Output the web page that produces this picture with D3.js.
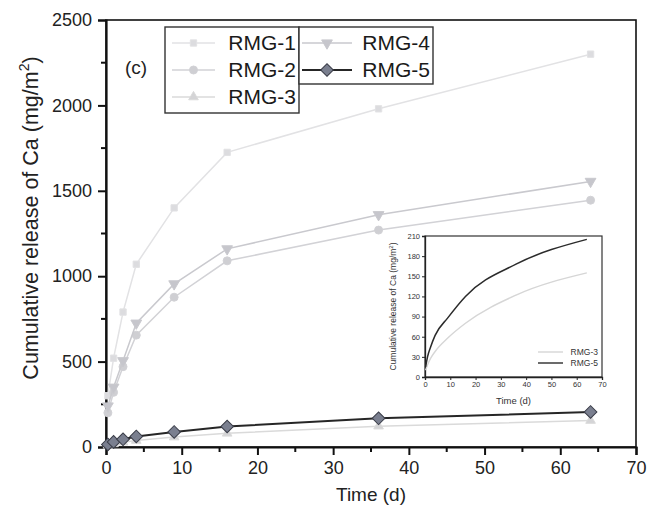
<!DOCTYPE html>
<html>
<head>
<meta charset="utf-8">
<script src="https://cdn.jsdelivr.net/npm/d3@7"></script>
<style>
  body { margin: 0; background: #fff; }
  svg { display: block; font-family: "Liberation Sans", Arial, sans-serif; }
</style>
</head>
<body>
<svg id="chart" width="648" height="510"></svg>
<script>
// sampling days (tank leaching schedule)
const days = [0.25, 1, 2.25, 4, 9, 16, 36, 64];

// cumulative release of Ca, mg/m2
const rmg1 = [300, 520, 790, 1070, 1400, 1725, 1980, 2300];
const rmg2 = [200, 320, 470, 655, 877, 1090, 1270, 1445];
const rmg3 = [10, 18, 28, 38, 58, 80, 122, 155];
const rmg4 = [240, 350, 505, 725, 955, 1160, 1360, 1555];
const rmg5 = [15, 30, 45, 62, 88, 120, 168, 205];

const seriesNames = ["RMG-1", "RMG-2", "RMG-3", "RMG-4", "RMG-5"];
const seriesValues = [rmg1, rmg2, rmg3, rmg4, rmg5];

const xTicks = [0, 10, 20, 30, 40, 50, 60, 70];
const yTicks = [0, 500, 1000, 1500, 2000, 2500];
const insetXTicks = [0, 10, 20, 30, 40, 50, 60, 70];
const insetYTicks = [0, 30, 60, 90, 120, 150, 180, 210];

let style = {
  "RMG-1": {stroke: "#e2e2e4", fill: "#dcdcdf", sym: d3.symbolSquare, rot: 0, size: 40, w: 1.5},
  "RMG-2": {stroke: "#d2d2d6", fill: "#cfcfd3", sym: d3.symbolCircle, rot: 0, size: 50, w: 1.5},
  "RMG-3": {stroke: "#dadada", fill: "#d4d4d6", sym: d3.symbolTriangle, rot: 0, size: 40, w: 1.5},
  "RMG-4": {stroke: "#c9c9ce", fill: "#c6c6cc", sym: d3.symbolTriangle, rot: 180, size: 50, w: 1.5},
  "RMG-5": {stroke: "#262626", fill: "#7a7f8f", sym: d3.symbolSquare, rot: 45, size: 80, w: 2}
};

let svg = d3.select("#chart");

let mLeft = 106, mRight = 636, mTop = 20, mBottom = 447;
let x = d3.scaleLinear().domain([0, 70]).range([mLeft, mRight]);
let y = d3.scaleLinear().domain([0, 2500]).range([mBottom, mTop]);

// frame
svg.append("rect").attr("x", mLeft).attr("y", mTop)
  .attr("width", mRight - mLeft).attr("height", mBottom - mTop)
  .attr("fill", "none").attr("stroke", "#111").attr("stroke-width", 1.6);

// axes
let xAxis = d3.axisBottom(x).tickValues(xTicks).tickSize(8).tickPadding(6).tickFormat(d3.format("d"));
let gx = svg.append("g").attr("transform", "translate(0," + mBottom + ")").call(xAxis);
let yAxis = d3.axisLeft(y).tickValues(yTicks).tickSize(8).tickPadding(6).tickFormat(d3.format("d"));
let gy = svg.append("g").attr("transform", "translate(" + mLeft + ",0)").call(yAxis);
[gx, gy].forEach(g => {
  g.select(".domain").attr("stroke", "#111").attr("stroke-width", 2.2);
  g.selectAll(".tick line").attr("stroke", "#111").attr("stroke-width", 2);
  g.selectAll(".tick text").attr("fill", "#222").style("font-size", "18px");
});

// minor ticks
svg.append("g").selectAll("line").data(d3.range(5, 70, 10)).enter().append("line")
  .attr("x1", d => x(d)).attr("x2", d => x(d))
  .attr("y1", mBottom).attr("y2", mBottom + 5)
  .attr("stroke", "#111").attr("stroke-width", 2);
svg.append("g").selectAll("line").data(d3.range(250, 2500, 500)).enter().append("line")
  .attr("x1", mLeft - 5).attr("x2", mLeft)
  .attr("y1", d => y(d)).attr("y2", d => y(d))
  .attr("stroke", "#111").attr("stroke-width", 2);

// axis titles
svg.append("text").attr("x", x(35)).attr("y", 501).attr("text-anchor", "middle")
  .style("font-size", "19px").attr("fill", "#222").text("Time (d)");
let yl = svg.append("text").attr("transform", "translate(38,218) rotate(-90)")
  .attr("text-anchor", "middle").style("font-size", "21.5px").attr("fill", "#222");
yl.append("tspan").text("Cumulative release of Ca (mg/m");
yl.append("tspan").attr("dy", -9).style("font-size", "14px").text("2");
yl.append("tspan").attr("dy", 9).text(")");

// series
let line = d3.line().x((d, i) => x(days[i])).y(d => y(d));
seriesNames.forEach((name, k) => {
  let s = style[name];
  let g = svg.append("g").attr("class", "series");
  g.append("path").datum(seriesValues[k]).attr("d", line)
    .attr("fill", "none").attr("stroke", s.stroke).attr("stroke-width", s.w);
  g.selectAll("path.pt").data(seriesValues[k]).enter().append("path").attr("class", "pt")
    .attr("d", d3.symbol().type(s.sym).size(s.size))
    .attr("transform", (d, i) => "translate(" + x(days[i]) + "," + y(d) + ") rotate(" + s.rot + ")")
    .attr("fill", s.fill)
    .attr("stroke", name == "RMG-5" ? "#3a3d48" : s.stroke).attr("stroke-width", 1);
});

// panel label
svg.append("text").attr("x", 125).attr("y", 74).style("font-size", "19px").attr("fill", "#222").text("(c)");

// legend boxes
let legCol1 = ["RMG-1", "RMG-2", "RMG-3"], legCol2 = ["RMG-4", "RMG-5"];
svg.append("rect").attr("x", 165).attr("y", 27).attr("width", 134).attr("height", 86)
  .attr("fill", "#fff").attr("stroke", "#333").attr("stroke-width", 1.4);
svg.append("rect").attr("x", 299).attr("y", 27).attr("width", 134).attr("height", 57)
  .attr("fill", "#fff").attr("stroke", "#333").attr("stroke-width", 1.4);

function legendEntry(name, lx1, lx2, ty, textX) {
  let s = style[name];
  svg.append("line").attr("x1", lx1).attr("x2", lx2).attr("y1", ty).attr("y2", ty)
    .attr("stroke", s.stroke).attr("stroke-width", s.w);
  svg.append("path").attr("d", d3.symbol().type(s.sym).size(s.size))
    .attr("transform", "translate(" + ((lx1 + lx2) / 2) + "," + ty + ") rotate(" + s.rot + ")")
    .attr("fill", s.fill).attr("stroke", name == "RMG-5" ? "#3a3d48" : s.stroke);
  svg.append("text").attr("x", textX).attr("y", ty + 7).attr("text-anchor", "end")
    .style("font-size", "21px").attr("fill", "#1a1a1a").text(name);
}
legCol1.forEach((n, i) => legendEntry(n, 172, 215, 43 + i * 27, 296));
legCol2.forEach((n, i) => legendEntry(n, 302, 352, 43 + i * 27, 430));

// inset
let iLeft = 425, iRight = 602, iTop = 236, iBottom = 377;
let ix = d3.scaleLinear().domain([0, 70]).range([iLeft, iRight]);
let iy = d3.scaleLinear().domain([0, 210]).range([iBottom, iTop]);
let inset = svg.append("g").attr("class", "inset");
inset.append("rect").attr("x", iLeft).attr("y", iTop).attr("width", iRight - iLeft).attr("height", iBottom - iTop)
  .attr("fill", "#fff").attr("stroke", "#333").attr("stroke-width", 1.2);
let igx = inset.append("g").attr("transform", "translate(0," + iBottom + ")")
  .call(d3.axisBottom(ix).tickValues(insetXTicks).tickSize(3).tickPadding(2));
let igy = inset.append("g").attr("transform", "translate(" + iLeft + ",0)")
  .call(d3.axisLeft(iy).tickValues(insetYTicks).tickSize(3).tickPadding(2));
[igx, igy].forEach(g => {
  g.select(".domain").attr("stroke", "#222").attr("stroke-width", 1.3);
  g.selectAll(".tick line").attr("stroke", "#222");
  g.selectAll(".tick text").attr("fill", "#333").style("font-size", "7.5px");
});
inset.append("text").attr("x", (iLeft + iRight) / 2).attr("y", 404).attr("text-anchor", "middle")
  .style("font-size", "9.5px").attr("fill", "#333").text("Time (d)");
let iyl = inset.append("text").attr("transform", "translate(396," + ((iTop + iBottom) / 2) + ") rotate(-90)")
  .attr("text-anchor", "middle").style("font-size", "8.5px").attr("fill", "#333");
iyl.append("tspan").text("Cumulative release of Ca (mg/m");
iyl.append("tspan").attr("dy", -3).style("font-size", "6px").text("2");
iyl.append("tspan").attr("dy", 3).text(")");

let iline = d3.line().curve(d3.curveMonotoneX).x((d, i) => ix(days[i])).y(d => iy(d));
inset.append("path").datum(rmg3).attr("d", iline).attr("fill", "none").attr("stroke", "#d6d6d6").attr("stroke-width", 1.4);
inset.append("path").datum(rmg5).attr("d", iline).attr("fill", "none").attr("stroke", "#2b2b2b").attr("stroke-width", 1.5);

[["RMG-3", "#d6d6d6"], ["RMG-5", "#2b2b2b"]].forEach((e, i) => {
  let ly = 352 + i * 11;
  inset.append("line").attr("x1", 538).attr("x2", 563).attr("y1", ly).attr("y2", ly)
    .attr("stroke", e[1]).attr("stroke-width", 1.4);
  inset.append("text").attr("x", 598).attr("y", ly + 3).attr("text-anchor", "end")
    .style("font-size", "8.5px").attr("fill", "#333").text(e[0]);
});
</script>
</body>
</html>
